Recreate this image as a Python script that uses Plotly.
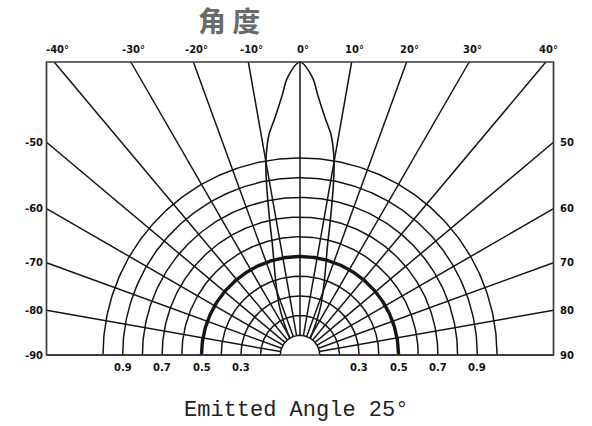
import numpy as np
import plotly.graph_objects as go

# ---------------- data ----------------
radial_angles = [-90, -80, -70, -60, -50, -40, -30, -20, -10, 0, 10, 20, 30, 40, 50, 60, 70, 80, 90]
ring_values = [0.1, 0.2, 0.3, 0.4, 0.5, 0.6, 0.7, 0.8, 0.9, 1.0]
bold_ring = 0.5

top_tick_angles = [-40, -30, -20, -10, 0, 10, 20, 30, 40]
top_tick_labels = ["-40°", "-30°", "-20°", "-10°", "0°", "10°", "20°", "30°", "40°"]
side_tick_angles = [50, 60, 70, 80, 90]
left_tick_labels = ["-50", "-60", "-70", "-80", "-90"]
right_tick_labels = ["50", "60", "70", "80", "90"]
scale_values = [0.9, 0.7, 0.5, 0.3]
scale_labels = ["0.9", "0.7", "0.5", "0.3"]

# radiation pattern (relative intensity vs angle, symmetric)
pattern_angles = [0, 2.5, 4, 6, 8, 9, 10, 11, 12, 13, 14, 16, 18, 20, 23, 26, 30, 32]
pattern_intensity = [1.0, 0.95, 0.885, 0.815, 0.76, 0.72, 0.67, 0.60, 0.52, 0.45, 0.39,
                     0.32, 0.27, 0.23, 0.18, 0.13, 0.08, 0.065]

title_text = "角 度"
caption_text = "Emitted Angle 25°"

# ---------------- geometry / style ----------------
PX = 197.0                 # pixels per unit radius
BOX_W = 253.5 / PX         # half width of frame
BOX_H = 293.0 / PX         # height of frame
LINE = "#151515"


def to_xy(theta_deg, r):
    t = np.radians(theta_deg)
    return r * np.sin(t), r * np.cos(t)


def edge_radius(theta_deg):
    t = np.radians(theta_deg)
    s, c = abs(np.sin(t)), np.cos(t)
    cands = []
    if s > 1e-9:
        cands.append(BOX_W / s)
    if c > 1e-9:
        cands.append(BOX_H / c)
    return min(cands)


fig = go.Figure()

# radial grid lines
rx, ry = [], []
r0 = ring_values[0]
for a in radial_angles:
    x0, y0 = to_xy(a, r0)
    x1, y1 = to_xy(a, edge_radius(a))
    rx += [x0, x1, None]
    ry += [y0, y1, None]
fig.add_trace(go.Scatter(x=rx, y=ry, mode="lines", line=dict(color=LINE, width=1.5),
                         hoverinfo="skip", showlegend=False))

# concentric rings
th = np.linspace(-90, 90, 241)
for v in ring_values:
    x, y = to_xy(th, v)
    fig.add_trace(go.Scatter(x=x, y=y, mode="lines",
                             line=dict(color=LINE, width=3.4 if v == bold_ring else 1.5),
                             hoverinfo="skip", showlegend=False))

# radiation lobe
lob_a = [-a for a in pattern_angles[::-1]] + pattern_angles[1:]
lob_i = pattern_intensity[::-1] + pattern_intensity[1:]
lx, ly = to_xy(np.array(lob_a), np.array(lob_i) * BOX_H)
fig.add_trace(go.Scatter(x=lx, y=ly, mode="lines", line=dict(color=LINE, width=1.6, shape="spline"),
                         hoverinfo="skip", showlegend=False))

# frame
fig.add_shape(type="rect", x0=-BOX_W, x1=BOX_W, y0=0, y1=BOX_H,
              line=dict(color="#3a3a3a", width=1.7), layer="above")

lab_font = dict(family="DejaVu Sans", size=10, color="#111")
ann = []
for a, t in zip(top_tick_angles, top_tick_labels):
    x = BOX_H * np.tan(np.radians(a))
    ann.append(dict(x=x, y=BOX_H, text="<b>%s</b>" % t, showarrow=False, xanchor="center",
                    yanchor="bottom", yshift=5, xshift=3, font=lab_font))
for a, tl, tr in zip(side_tick_angles, left_tick_labels, right_tick_labels):
    y = BOX_W / np.tan(np.radians(a))
    ann.append(dict(x=-BOX_W, y=y, text="<b>%s</b>" % tl, showarrow=False, xanchor="right",
                    yanchor="middle", xshift=-2, font=lab_font))
    ann.append(dict(x=BOX_W, y=y, text="<b>%s</b>" % tr, showarrow=False, xanchor="left",
                    yanchor="middle", xshift=4, font=lab_font))
for v, t in zip(scale_values, scale_labels):
    for sgn in (-1, 1):
        ann.append(dict(x=sgn * v, y=0, text="<b>%s</b>" % t, showarrow=False, xanchor="center",
                        yanchor="top", yshift=-5, font=lab_font))

ann.append(dict(x=-71 / PX, y=335 / PX, text="<b>%s</b>" % title_text, showarrow=False, xanchor="center",
                yanchor="middle", font=dict(family="Noto Sans CJK SC", size=28, color="#6a6a6a")))
ann.append(dict(x=-4 / PX, y=-55 / PX, text=caption_text, showarrow=False, xanchor="center",
                yanchor="middle", font=dict(family="Liberation Mono", size=22, color="#222")))

fig.update_layout(
    width=592, height=426, autosize=False,
    margin=dict(l=0, r=0, t=0, b=0),
    paper_bgcolor="white", plot_bgcolor="white",
    xaxis=dict(range=[-300 / PX, 292 / PX], visible=False, fixedrange=True),
    yaxis=dict(range=[-71 / PX, 355 / PX], visible=False, fixedrange=True),
    annotations=ann,
    showlegend=False,
)

fig.write_html("out.html", config={"displayModeBar": False},
               post_script="document.body.style.margin='0px';document.body.style.overflow='hidden';")
